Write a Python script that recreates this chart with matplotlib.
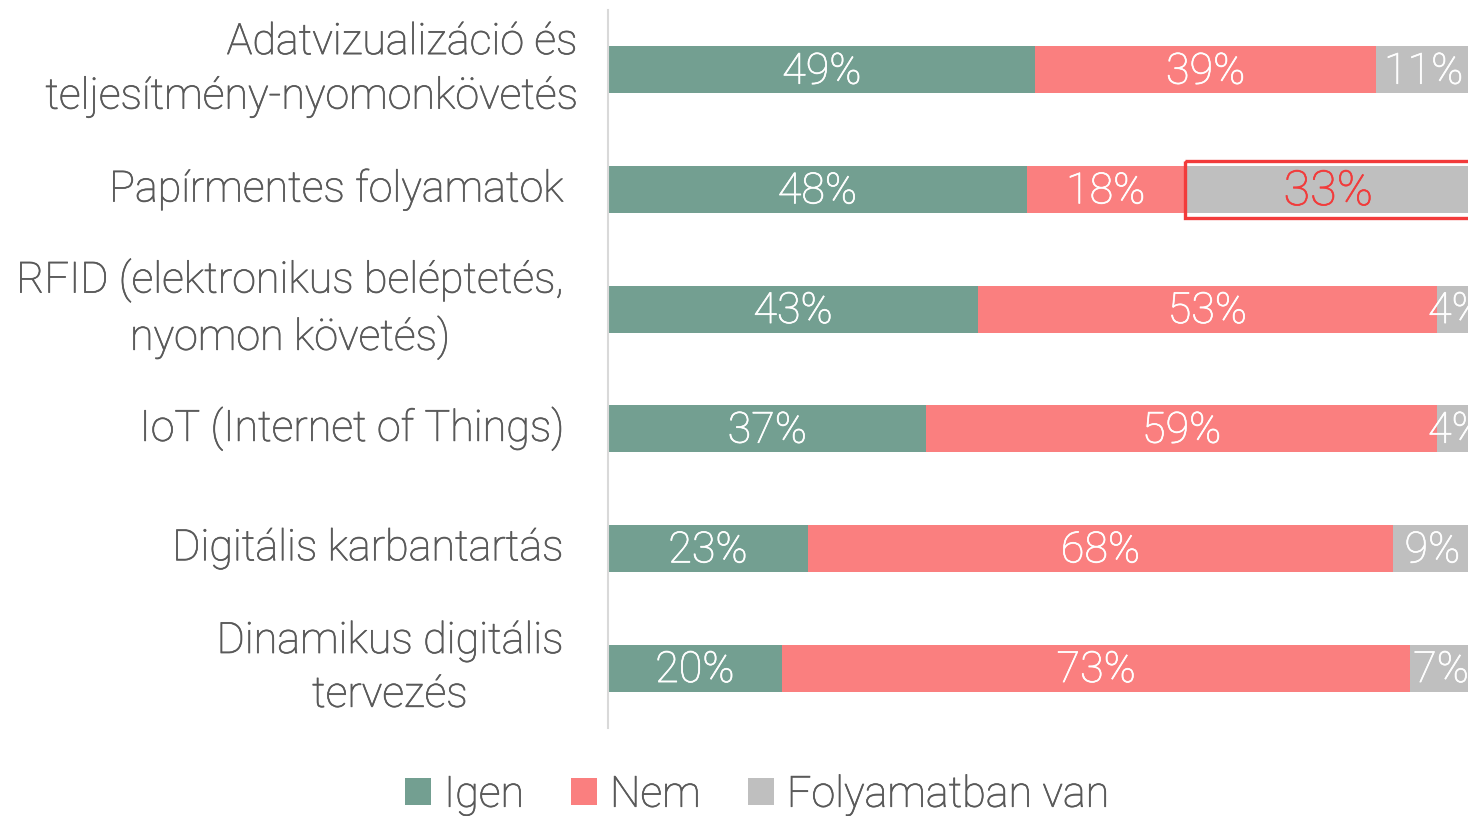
#!/usr/bin/env python3
"""Stacked horizontal bar chart: digital tool adoption (Igen / Nem / Folyamatban van)."""

import matplotlib
matplotlib.use('Agg')
import matplotlib.pyplot as plt
import matplotlib.patheffects as pe
from matplotlib.patches import Patch, Rectangle

FONT_WEIGHT = 'light'

plt.rcParams.update({
    'font.family': ['Roboto', 'DejaVu Sans'],
    'font.weight': FONT_WEIGHT,
})

# ---------------------------------------------------------------------------
# Data
# ---------------------------------------------------------------------------
CATEGORIES = [
    'Adatvizualizáció és\nteljesítmény-nyomonkövetés',
    'Papírmentes folyamatok',
    'RFID (elektronikus beléptetés,\nnyomon követés)',
    'IoT (Internet of Things)',
    'Digitális karbantartás',
    'Dinamikus digitális\ntervezés',
]
IGEN = [49.0, 48.0, 42.4, 36.5, 22.9, 19.9]
NEM = [39.0, 18.1, 52.6, 58.5, 67.1, 72.1]
FOLYAMATBAN = [11.0, 33.0, 4.4, 4.4, 9.0, 7.0]

IGEN_LABELS = ['49%', '48%', '43%', '37%', '23%', '20%']
NEM_LABELS = ['39%', '18%', '53%', '59%', '68%', '73%']
FOLY_LABELS = ['11%', '33%', '4%', '4%', '9%', '7%']

SERIES_NAMES = ['Igen', 'Nem', 'Folyamatban van']
HIGHLIGHT_ROW = 1

COLORS = ['#739F91', '#FA7F7F', '#BFBFBF']
TEXT_GRAY = '#595959'
HIGHLIGHT = '#F23B3B'


def thicken(color):
    # light glyphs render a little thinner than the reference; add a hairline stroke
    return [pe.withStroke(linewidth=0.5, foreground=color)]


# ---------------------------------------------------------------------------
# Plot
# ---------------------------------------------------------------------------
fig = plt.figure(figsize=(14.68, 8.16), dpi=100)
ax = fig.add_axes([608 / 1468, 88 / 816, 860 / 1468, 718 / 816])

ypos = list(range(len(CATEGORIES)))
bar_h = 0.393
series = [IGEN, NEM, FOLYAMATBAN]
labels = [IGEN_LABELS, NEM_LABELS, FOLY_LABELS]

left = [0.0] * len(CATEGORIES)
for s_idx, (vals, labs) in enumerate(zip(series, labels)):
    ax.barh(ypos, vals, left=left, height=bar_h, color=COLORS[s_idx],
            edgecolor='none', label=SERIES_NAMES[s_idx])
    for i, (v, l0, lab) in enumerate(zip(vals, left, labs)):
        hi = (s_idx == 2 and i == HIGHLIGHT_ROW)
        col = HIGHLIGHT if hi else 'white'
        ax.text(l0 + v / 2, i + 0.02, lab, ha='center', va='center',
                color=col, fontsize=35 if hi else 31, clip_on=False,
                path_effects=thicken(col))
    left = [a + b for a, b in zip(left, vals)]

# highlight box around the "Folyamatban van" segment of Papírmentes folyamatok
hx = IGEN[HIGHLIGHT_ROW] + NEM[HIGHLIGHT_ROW]
ax.add_patch(Rectangle((hx, HIGHLIGHT_ROW - 0.235), FOLYAMATBAN[HIGHLIGHT_ROW] + 2, 0.47,
                       fill=False, edgecolor=HIGHLIGHT, linewidth=2.4, clip_on=False,
                       zorder=5))

ax.set_xlim(0, 98.6)
ax.set_ylim(len(CATEGORIES) - 0.5, -0.5)
ax.set_xticks([])
ax.set_yticks([])
for side in ('top', 'right', 'bottom'):
    ax.spines[side].set_visible(False)
ax.spines['left'].set_color('#D9D9D9')
ax.spines['left'].set_linewidth(1.5)

# category labels
ytr = ax.get_yaxis_transform()
for i, cat in enumerate(CATEGORIES):
    if i == 0:
        ax.text(-0.036, i, cat, transform=ytr, ha='right', va='center',
                multialignment='right', fontsize=31, color=TEXT_GRAY,
                linespacing=1.4, path_effects=thicken(TEXT_GRAY))
    else:
        ax.text(-0.0523, i, cat, transform=ytr, ha='right', va='center',
                multialignment='center', fontsize=31, color=TEXT_GRAY,
                linespacing=1.4, path_effects=thicken(TEXT_GRAY))

handles = [Patch(facecolor=c, edgecolor='none') for c in COLORS]
leg = fig.legend(handles, SERIES_NAMES, loc='center', bbox_to_anchor=(757 / 1468, 1 - 795 / 816),
                 ncol=3, frameon=False, fontsize=31, handlelength=0.6, handleheight=0.6,
                 handletextpad=0.3, columnspacing=1.1)
for t in leg.get_texts():
    t.set_color(TEXT_GRAY)
    t.set_path_effects(thicken(TEXT_GRAY))

fig.savefig('out.png', dpi=100)
